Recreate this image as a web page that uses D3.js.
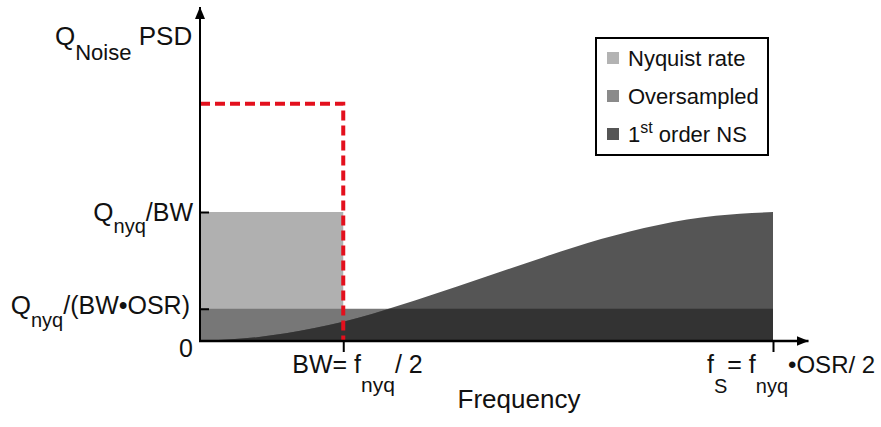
<!DOCTYPE html>
<html>
<head>
<meta charset="utf-8">
<script src="https://cdn.jsdelivr.net/npm/d3@7"></script>
<style>
  body { margin: 0; background: #fff; }
  text { font-family: "Liberation Sans", Arial, sans-serif; fill: #111; }
</style>
</head>
<body>
<div id="chart"></div>
<script>
// frequency as a fraction of fS, PSD relative to Qnyq/BW
const nsFreq  = [0, 0.1, 0.2, 0.3, 0.4, 0.5, 0.6, 0.7, 0.8, 0.9, 1.0];
const nsPsd   = [0, 0.03, 0.10, 0.21, 0.35, 0.50, 0.65, 0.79, 0.90, 0.97, 1.0];
const nyquistBand = [0.25, 1.0];     // BW, Qnyq/BW
const oversampledBand = [1.0, 0.25]; // fS, Qnyq/(BW*OSR)
const dashedLevel = 1.84;
const legendLabels = ["Nyquist rate", "Oversampled", "1st order NS"];
const legendColors = ["#b3b3b3", "#8a8a8a", "#555555"];

const width = 881, height = 427;

const x = d3.scaleLinear().domain([0, 1]).range([200, 773]);
const y = d3.scaleLinear().domain([0, 1]).range([341, 212]);

const svg = d3.select("#chart").append("svg")
  .attr("width", width)
  .attr("height", height);

const defs = svg.append("defs");
defs.append("marker")
  .attr("id", "arrow")
  .attr("viewBox", "0 0 12 10")
  .attr("refX", 12).attr("refY", 5)
  .attr("markerWidth", 12).attr("markerHeight", 10)
  .attr("markerUnits", "userSpaceOnUse")
  .attr("orient", "auto")
  .append("path")
  .attr("d", "M0,0L12,5L0,10Z")
  .attr("fill", "#000");

defs.append("clipPath").attr("id", "band-clip")
  .append("rect")
  .attr("x", x(0)).attr("y", y(oversampledBand[1]))
  .attr("width", x(oversampledBand[0]) - x(0))
  .attr("height", y(0) - y(oversampledBand[1]));

const nsData = nsFreq.map((f, i) => ({f: f, v: nsPsd[i]}));
const area = d3.area()
  .x(d => x(d.f))
  .y0(y(0))
  .y1(d => y(d.v))
  .curve(d3.curveMonotoneX);

// Nyquist rate
svg.append("rect")
  .attr("x", x(0)).attr("y", y(nyquistBand[1]))
  .attr("width", x(nyquistBand[0]) - x(0))
  .attr("height", y(0) - y(nyquistBand[1]))
  .attr("fill", "#b0b0b0");

// oversampled
svg.append("rect")
  .attr("x", x(0)).attr("y", y(oversampledBand[1]))
  .attr("width", x(oversampledBand[0]) - x(0))
  .attr("height", y(0) - y(oversampledBand[1]))
  .attr("fill", "#777777");

// 1st order noise shaping
svg.append("path").datum(nsData)
  .attr("d", area)
  .attr("fill", "#555555");

svg.append("path").datum(nsData)
  .attr("d", area)
  .attr("clip-path", "url(#band-clip)")
  .attr("fill", "#333333");

// red dashed brick-wall
const dashed = [[0, dashedLevel], [nyquistBand[0], dashedLevel], [nyquistBand[0], 0]];
svg.append("path")
  .attr("d", d3.line().x(d => x(d[0])).y(d => y(d[1]))(dashed))
  .attr("fill", "none")
  .attr("stroke", "#e3101d")
  .attr("stroke-width", 4)
  .attr("stroke-dasharray", "10,5");

// axes
const xAxis = d3.axisBottom(x).tickValues([0.25, 1]).tickSize(11).tickFormat("");
const yAxis = d3.axisLeft(y).tickValues([0.25, 1]).tickSize(-9).tickFormat("");

svg.append("g").attr("transform", `translate(0,${y(0)})`).call(xAxis)
  .call(g => g.select(".domain").remove())
  .selectAll("line").attr("stroke", "#000").attr("stroke-width", 2);
svg.append("g").attr("transform", `translate(${x(0)},0)`).call(yAxis)
  .call(g => g.select(".domain").remove())
  .selectAll("line").attr("stroke", "#000").attr("stroke-width", 2);

svg.append("line")
  .attr("x1", x(0) - 1).attr("y1", y(0))
  .attr("x2", x(1.062)).attr("y2", y(0))
  .attr("stroke", "#000").attr("stroke-width", 2.5)
  .attr("marker-end", "url(#arrow)");
svg.append("line")
  .attr("x1", x(0)).attr("y1", y(0) + 1)
  .attr("x2", x(0)).attr("y2", y(2.59))
  .attr("stroke", "#000").attr("stroke-width", 2)
  .attr("marker-end", "url(#arrow)");

// helper: text with tspans [text, size, dy]
function richText(g, parts, attrs) {
  const t = g.append("text");
  Object.entries(attrs).forEach(([k, v]) => t.attr(k, v));
  parts.forEach(p => {
    t.append("tspan")
      .attr("font-size", p[1])
      .attr("dy", p[2] || 0)
      .text(p[0]);
  });
  return t;
}

// y labels
richText(svg, [["Q", 26], ["nyq", 20, 12], ["/BW", 25, -12]],
  {x: 193, y: y(1) + 9, "text-anchor": "end"});
richText(svg, [["Q", 26], ["nyq", 20, 13], ["/(BW•OSR)", 25, -13]],
  {x: 190, y: y(0.25) + 5, "text-anchor": "end"});
richText(svg, [["0", 25]], {x: 193, y: y(0) + 16, "text-anchor": "end"});

// y title
richText(svg, [["Q", 26], ["Noise", 22, 15], [" PSD", 26, -15]],
  {x: 55, y: 45});

// x labels
richText(svg, [["BW= f", 25], ["nyq", 21, 19], ["/ 2", 25, -19]],
  {x: x(0.25) - 51, y: 373});
richText(svg, [["f", 25], ["S", 20, 20], ["= f", 25, -20], ["nyq", 20, 20], ["•OSR/ 2", 24, -20]],
  {x: x(1) - 66, y: 373});

svg.append("text")
  .attr("x", 519).attr("y", 408)
  .attr("text-anchor", "middle")
  .attr("font-size", 26)
  .text("Frequency");

// legend
const legend = svg.append("g");
legend.append("rect")
  .attr("x", 596).attr("y", 38)
  .attr("width", 172).attr("height", 117)
  .attr("fill", "#fff")
  .attr("stroke", "#000")
  .attr("stroke-width", 2);

const rows = legend.selectAll("g.row")
  .data(legendLabels)
  .join("g")
  .attr("class", "row")
  .attr("transform", (d, i) => `translate(607,${58 + i * 38})`);

rows.append("rect")
  .attr("x", 0).attr("y", -6)
  .attr("width", 12).attr("height", 12)
  .attr("fill", (d, i) => legendColors[i]);

rows.each(function (d, i) {
  const g = d3.select(this);
  if (d.startsWith("1st")) {
    richText(g, [["1", 22], ["st", 16, -9], [" order NS", 22, 9]], {x: 21, y: 8});
  } else {
    richText(g, [[d, 22]], {x: 21, y: 8});
  }
});
</script>
</body>
</html>
